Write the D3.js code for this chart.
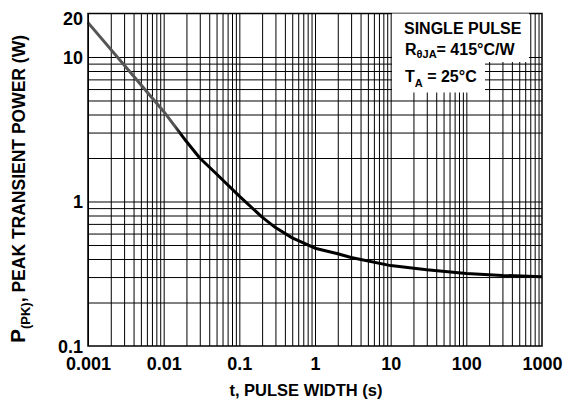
<!DOCTYPE html>
<html>
<head>
<meta charset="utf-8">
<script src="https://cdn.jsdelivr.net/npm/d3@7"></script>
<style>
  body { margin: 0; background: #fff; }
  text { font-family: "Liberation Sans", Arial, sans-serif; font-weight: bold; fill: #000; }
</style>
</head>
<body>
<svg id="chart" width="575" height="401"></svg>
<script>
// данные кривой
const pulseWidth = [0.001, 0.003, 0.01, 0.02, 0.03, 0.05, 0.1, 0.2, 0.3, 0.5, 1, 2, 3, 10, 30, 100, 300, 1000];
const peakPower = [17.3, 8.8, 4.2, 2.6, 2.0, 1.55, 1.09, 0.78, 0.66, 0.56, 0.475, 0.435, 0.41, 0.36, 0.337, 0.318, 0.308, 0.302];

const xTicks = [0.001, 0.01, 0.1, 1, 10, 100, 1000];
const xTickLabels = ["0.001", "0.01", "0.1", "1", "10", "100", "1000"];
const yTicks = [0.1, 1, 10, 20];
const yTickLabels = ["0.1", "1", "10", "20"];

// линии сетки
const xGrid = [];
[0.001, 0.01, 0.1, 1, 10, 100].forEach((d) => {
  for (let k = 1; k <= 9; k++) xGrid.push(k * d);
});
const yGrid = [];
[0.1, 1].forEach((d) => {
  for (let k = 2; k <= 9; k++) yGrid.push(k * d);
});
yGrid.push(1, 10);

const margin = { top: 13.5, right: 33, bottom: 55, left: 88 },
  width = 575 - margin.left - margin.right,
  height = 401 - margin.top - margin.bottom;

const svg = d3.select("#chart");
const g = svg.append("g").attr("transform", `translate(${margin.left},${margin.top})`);

const x = d3.scaleLog().domain([0.001, 1000]).range([0, width]);
const y = d3.scaleLog().domain([0.1, 20]).range([height, 0]);

// сетка
const gx = g.append("g")
  .attr("transform", `translate(0,${height})`)
  .call(d3.axisBottom(x).tickValues(xGrid).tickSize(-height).tickFormat(""));
gx.select(".domain").remove();
gx.selectAll("line").attr("stroke", "#000").attr("stroke-width", 1);

const gy = g.append("g")
  .call(d3.axisLeft(y).tickValues(yGrid).tickSize(-width).tickFormat(""));
gy.select(".domain").remove();
gy.selectAll("line").attr("stroke", "#000").attr("stroke-width", 1);

// белые подложки для надписи
const boxes = [
  [392, 13.5, 137, 24.5],
  [392, 37.5, 137, 24.5],
  [392, 61.5, 93, 31]
];
svg.selectAll("rect.box")
  .data(boxes)
  .enter()
  .append("rect")
  .attr("class", "box")
  .attr("x", (d) => d[0])
  .attr("y", (d) => d[1])
  .attr("width", (d) => d[2])
  .attr("height", (d) => d[3])
  .attr("fill", "#fff");

// кривая (верхний участок серее)
const grad = svg.append("defs").append("linearGradient")
  .attr("id", "curveGrad")
  .attr("gradientUnits", "userSpaceOnUse")
  .attr("x1", x(0.001)).attr("x2", x(1000))
  .attr("y1", 0).attr("y2", 0);
const split = x(0.014) / width;
grad.append("stop").attr("offset", split).attr("stop-color", "#555");
grad.append("stop").attr("offset", split + 0.015).attr("stop-color", "#000");

const points = pulseWidth.map((t, i) => [t, peakPower[i]]);
g.append("path")
  .datum(points)
  .attr("fill", "none")
  .attr("stroke", "url(#curveGrad)")
  .attr("stroke-width", 3)
  .attr("stroke-linejoin", "round")
  .attr("d", d3.line().x((d) => x(d[0])).y((d) => y(d[1])));

// рамка
g.append("rect")
  .attr("width", width)
  .attr("height", height)
  .attr("fill", "none")
  .attr("stroke", "#000")
  .attr("stroke-width", 1.5);

// подписи осей
const ax = g.append("g")
  .attr("transform", `translate(0,${height})`)
  .call(d3.axisBottom(x).tickValues(xTicks).tickSize(0).tickPadding(11.5)
    .tickFormat((d, i) => xTickLabels[i]));
ax.select(".domain").remove();
ax.selectAll("text").attr("font-size", 18).attr("font-family", null).attr("fill", "#000");

const ay = g.append("g")
  .call(d3.axisLeft(y).tickValues(yTicks).tickSize(0).tickPadding(5)
    .tickFormat((d, i) => yTickLabels[i]));
ay.select(".domain").remove();
ay.selectAll("text")
  .attr("font-size", 18).attr("font-family", null).attr("fill", "#000")
  .attr("dy", (d) => (d === 20 ? "0.62em" : "0.36em"));

svg.append("text")
  .attr("x", 306)
  .attr("y", 396)
  .attr("text-anchor", "middle")
  .attr("font-size", 16.5)
  .text("t, PULSE WIDTH (s)");

const yTitle = svg.append("text")
  .attr("transform", "translate(25,189) rotate(-90)")
  .attr("text-anchor", "middle")
  .attr("font-size", 17.5);
yTitle.append("tspan").attr("font-size", 21).text("P");
yTitle.append("tspan").attr("font-size", 13).attr("dy", 5).text("(PK)");
yTitle.append("tspan").attr("dy", -5).text(", PEAK TRANSIENT POWER (W)");

// надпись условий
svg.append("text").attr("x", 404).attr("y", 33.5).attr("font-size", 16).text("SINGLE PULSE");

const r = svg.append("text").attr("x", 405).attr("y", 55).attr("font-size", 16);
r.append("tspan").text("R");
r.append("tspan").attr("font-size", 11).attr("dy", 3).text("θJA");
r.append("tspan").attr("dy", -3).text("= 415°C/W");

const ta = svg.append("text").attr("x", 405).attr("y", 81.5).attr("font-size", 16);
ta.append("tspan").text("T");
ta.append("tspan").attr("font-size", 11).attr("dy", 5).text("A");
ta.append("tspan").attr("dy", -5).text(" = 25°C");
</script>
</body>
</html>
